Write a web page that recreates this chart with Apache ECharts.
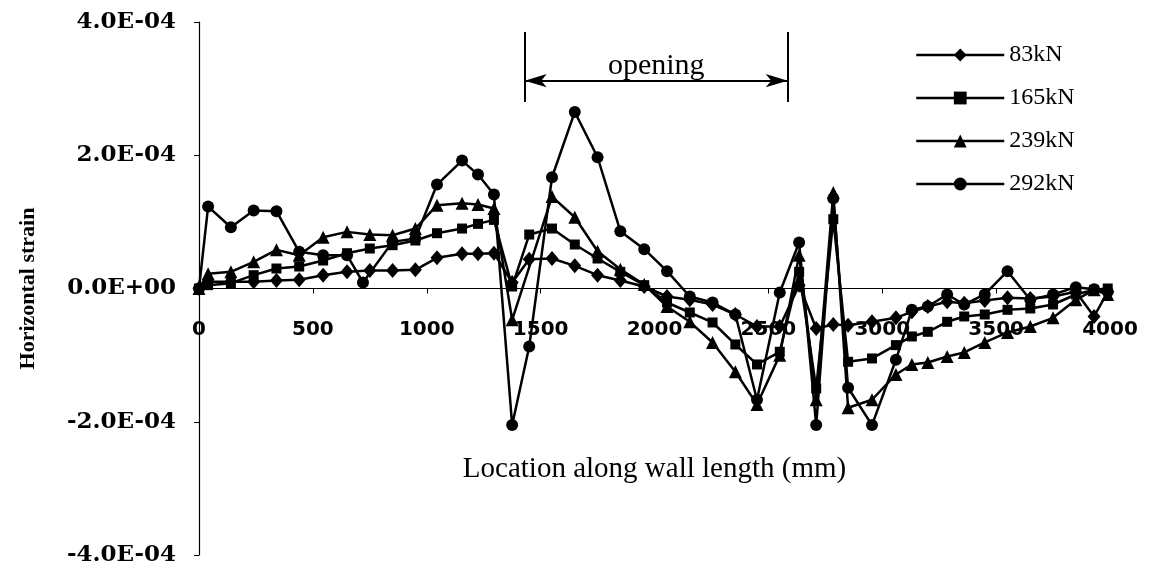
<!DOCTYPE html>
<html>
<head>
<meta charset="utf-8">
<script src="https://cdn.jsdelivr.net/npm/echarts@6/dist/echarts.min.js"></script>
<style>
html,body{margin:0;padding:0;background:#fff;}
#chart{width:1151px;height:565px;}
</style>
</head>
<body>
<div id="chart"></div>
<script>
// Gauge locations along wall length (mm)
const locations = [0, 40, 140, 240, 340, 440, 545, 650, 720, 750, 850, 950, 1045, 1155, 1225, 1295, 1375, 1450, 1550, 1650, 1750, 1850, 1955, 2055, 2155, 2255, 2355, 2450, 2550, 2635, 2710, 2785, 2850, 2955, 3060, 3130, 3200, 3285, 3360, 3450, 3550, 3650, 3750, 3850, 3930, 3990];

// Horizontal strain values, in units of 1E-04
const strain83 = [0, 0.10, 0.10, 0.10, 0.12, 0.13, 0.20, 0.25, null, 0.27, 0.27, 0.28, 0.46, 0.52, 0.52, 0.53, 0.09, 0.44, 0.45, 0.34, 0.20, 0.12, 0.03, -0.12, -0.17, -0.24, -0.39, -0.57, -0.57, 0.05, -0.60, -0.54, -0.55, -0.50, -0.44, -0.35, -0.27, -0.20, -0.22, -0.18, -0.14, -0.15, -0.12, -0.05, -0.42, -0.05];
const strain165 = [0, 0.05, 0.08, 0.20, 0.30, 0.33, 0.42, 0.53, null, 0.60, 0.65, 0.72, 0.83, 0.90, 0.97, 1.03, 0.03, 0.81, 0.90, 0.66, 0.45, 0.25, 0.05, -0.21, -0.36, -0.51, -0.84, -1.14, -0.95, 0.25, -1.50, 1.04, -1.10, -1.05, -0.85, -0.72, -0.65, -0.50, -0.42, -0.39, -0.32, -0.30, -0.24, -0.09, -0.02, 0.00];
const strain239 = [0, 0.22, 0.25, 0.40, 0.58, 0.50, 0.77, 0.85, null, 0.81, 0.80, 0.90, 1.25, 1.28, 1.26, 1.20, -0.47, null, 1.38, 1.07, 0.56, 0.29, 0.06, -0.27, -0.50, -0.81, -1.25, -1.74, -1.00, 0.50, -1.67, 1.44, -1.79, -1.67, -1.29, -1.14, -1.11, -1.02, -0.96, -0.81, -0.66, -0.57, -0.44, -0.17, -0.02, -0.09];
const strain292 = [0, 1.23, 0.92, 1.17, 1.16, 0.55, 0.50, 0.50, 0.09, null, 0.70, 0.75, 1.56, 1.92, 1.71, 1.41, -2.05, -0.87, 1.67, 2.65, 1.97, 0.86, 0.59, 0.26, -0.12, -0.21, -0.39, -1.67, -0.06, 0.69, -2.05, 1.35, -1.49, -2.05, -1.07, -0.32, -0.27, -0.09, -0.24, -0.09, 0.26, -0.17, -0.09, 0.02, -0.01, -0.05];

const seriesNames = ['83kN', '165kN', '239kN', '292kN'];
const seriesValues = [strain83, strain165, strain239, strain292];
const yTicks = [-4, -2, 0, 2, 4]; // in 1E-04
const xTicks = [0, 500, 1000, 1500, 2000, 2500, 3000, 3500, 4000];

// Opening extent (mm)
const openingStart = 1430;
const openingEnd = 2585;

const symbols = ['diamond', 'rect', 'triangle', 'circle'];
const symbolSizes = [[13, 15], 10, 13, 12];

const W = 1151, H = 565;
const gridTop = 22, gridBottom = 10;
const gridHeight = H - gridTop - gridBottom;
const yMin = yTicks[0], yMax = yTicks[yTicks.length - 1];
// shift the x axis up to the y = 0 line
const xAxisOffset = -gridHeight * (0 - yMin) / (yMax - yMin);

const chart = echarts.init(document.getElementById('chart'), null, {renderer: 'canvas'});

function fmtY(v) {
  if (Math.abs(v) < 1e-9) return '0.0E+00';
  return v.toFixed(1) + 'E-04';
}

const series = seriesNames.map((name, i) => ({
  name: name,
  type: 'line',
  data: locations.map((x, k) => [x, seriesValues[i][k]]).filter(d => d[1] !== null),
  symbol: symbols[i],
  symbolSize: symbolSizes[i],
  showAllSymbol: true,
  itemStyle: {color: '#000'},
  lineStyle: {color: '#000', width: 2.5},
  z: 3
}));

// opening annotation
series[0].markLine = {
  silent: true,
  symbol: ['none', 'none'],
  lineStyle: {color: '#000', width: 2, type: 'solid'},
  label: {show: false},
  data: [
    [{coord: [openingStart, 3.85]}, {coord: [openingStart, 2.80]}],
    [{coord: [openingEnd, 3.85]}, {coord: [openingEnd, 2.80]}],
    [{coord: [openingStart, 3.12], symbol: 'arrow', symbolSize: [10, 22],
      lineStyle: {width: 2},
      label: {show: true, position: 'insideMiddleTop', formatter: 'opening',
              color: '#000', fontFamily: 'Liberation Serif', fontSize: 30, distance: 0}},
     {coord: [openingEnd, 3.12], symbol: 'arrow', symbolSize: [10, 22]}]
  ]
};

const option = {
  backgroundColor: '#fff',
  animation: false,
  grid: {left: 199, right: 41, top: gridTop, bottom: gridBottom, containLabel: false, outerBoundsMode: 'none'},
  legend: {
    orient: 'vertical',
    left: 910,
    top: 38,
    itemWidth: 88,
    itemHeight: 16,
    itemGap: 19,
    data: seriesNames,
    textStyle: {color: '#000', fontFamily: 'Liberation Serif', fontSize: 24},
    itemStyle: {color: '#000'},
    lineStyle: {color: '#000', width: 2.5}
  },
  xAxis: {
    type: 'value',
    position: 'bottom',
    offset: xAxisOffset,
    min: xTicks[0],
    max: xTicks[xTicks.length - 1],
    interval: 500,
    name: 'Location along wall length (mm)',
    nameLocation: 'middle',
    nameGap: 166,
    nameTextStyle: {color: '#000', fontFamily: 'Liberation Serif', fontSize: 29},
    axisLine: {onZero: false, lineStyle: {color: '#000', width: 1.2}},
    axisTick: {show: true, length: 5, inside: false, lineStyle: {color: '#000'}},
    axisLabel: {color: '#000', fontFamily: 'DejaVu Sans', fontWeight: 'bold', fontSize: 20, margin: 31,
                formatter: v => String(v)},
    splitLine: {show: false}
  },
  yAxis: {
    type: 'value',
    min: yMin,
    max: yMax,
    interval: 2,
    name: 'Horizontal strain',
    nameLocation: 'middle',
    nameGap: 160,
    nameRotate: 90,
    nameTextStyle: {color: '#000', fontFamily: 'Liberation Serif', fontWeight: 'bold', fontSize: 22},
    axisLine: {show: true, onZero: false, lineStyle: {color: '#000', width: 1.2}},
    axisTick: {show: true, length: 5, inside: false, lineStyle: {color: '#000'}},
    axisLabel: {color: '#000', fontFamily: 'DejaVu Serif', fontWeight: 'bold', fontSize: 23, margin: 23, formatter: fmtY},
    splitLine: {show: false}
  },
  series: series
};
chart.setOption(option);
</script>
</body>
</html>
